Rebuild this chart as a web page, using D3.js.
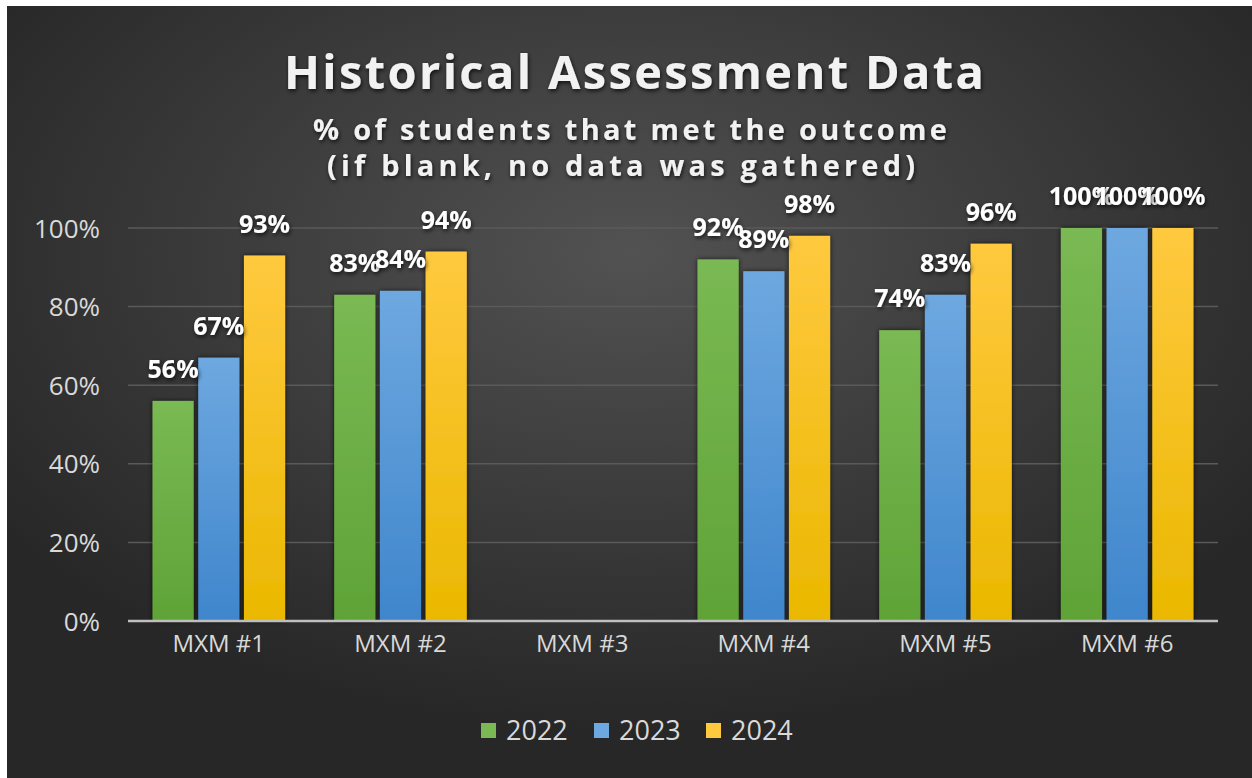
<!DOCTYPE html>
<html>
<head>
<meta charset="utf-8">
<script src="https://cdn.jsdelivr.net/npm/d3@7"></script>
<style>
  html, body { margin: 0; padding: 0; background: #fff; }
  svg { display: block; }
  text { font-family: "Open Sans", "Noto Sans", sans-serif; }
</style>
</head>
<body>
<div id="chart"></div>
<script>
// chart data
const categories = ["MXM #1", "MXM #2", "MXM #3", "MXM #4", "MXM #5", "MXM #6"];
const years = ["2022", "2023", "2024"];
const values2022 = [0.56, 0.83, null, 0.92, 0.74, 1.00];
const values2023 = [0.67, 0.84, null, 0.89, 0.83, 1.00];
const values2024 = [0.93, 0.94, null, 0.98, 0.96, 1.00];
const yTicks = [0, 0.2, 0.4, 0.6, 0.8, 1.0];

const seriesValues = [values2022, values2023, values2024];
const colors = {
  "2022": ["#7ab953", "#5fa337"],
  "2023": ["#6ea8e0", "#3f86cc"],
  "2024": ["#ffc93f", "#eab800"]
};

const width = 1252, height = 778;
const margin = {top: 228, right: 34, bottom: 157, left: 128};

const svg = d3.select("#chart").append("svg")
    .attr("width", width)
    .attr("height", height);

const defs = svg.append("defs");

// background gradient
const bg = defs.append("radialGradient")
    .attr("id", "bg")
    .attr("cx", "50%").attr("cy", "32%")
    .attr("r", "62%");
bg.append("stop").attr("offset", "0%").attr("stop-color", "#525252");
bg.append("stop").attr("offset", "100%").attr("stop-color", "#272727");

years.forEach(y => {
  const g = defs.append("linearGradient")
      .attr("id", "grad" + y)
      .attr("x1", 0).attr("y1", 0).attr("x2", 0).attr("y2", 1);
  g.append("stop").attr("offset", "0%").attr("stop-color", colors[y][0]);
  g.append("stop").attr("offset", "100%").attr("stop-color", colors[y][1]);
});

const shadow = defs.append("filter").attr("id", "shadow")
    .attr("x", "-20%").attr("y", "-20%").attr("width", "140%").attr("height", "140%");
shadow.append("feDropShadow")
    .attr("dx", 0).attr("dy", 0).attr("stdDeviation", 2.5)
    .attr("flood-color", "#000").attr("flood-opacity", 0.7);

const txtShadow = defs.append("filter").attr("id", "tshadow");
txtShadow.append("feDropShadow")
    .attr("dx", 1).attr("dy", 2).attr("stdDeviation", 2)
    .attr("flood-color", "#000").attr("flood-opacity", 0.75);

svg.append("rect")
    .attr("x", 7).attr("y", 6)
    .attr("width", width - 7).attr("height", height - 6)
    .attr("fill", "url(#bg)");

// title + subtitle lines
const titleLines = [
  {text: "Historical Assessment Data", x: 634, y: 89, size: 47, len: 700},
  {text: "% of students that met the outcome", x: 630, y: 140, size: 29, len: 634},
  {text: "(if blank, no data was gathered)", x: 621, y: 176, size: 29, len: 588}
];
svg.append("g")
    .selectAll("text")
    .data(titleLines)
    .join("text")
    .attr("x", d => d.x - d.len / 2).attr("y", d => d.y)
    .attr("fill", "#f2f2f2")
    .attr("font-size", d => d.size)
    .attr("font-weight", 700)
    .attr("textLength", d => d.len)
    .attr("lengthAdjust", "spacing")
    .attr("filter", "url(#tshadow)")
    .text(d => d.text);

// scales
const x0 = d3.scaleBand()
    .domain(categories)
    .range([margin.left, width - margin.right])
    .paddingInner(0.22)
    .paddingOuter(0.11);

const x1 = d3.scaleBand()
    .domain(years)
    .range([0, x0.bandwidth()])
    .padding(0.1);

const y = d3.scaleLinear()
    .domain([0, 1])
    .range([height - margin.bottom, margin.top]);

// gridlines
svg.append("g")
    .selectAll("line")
    .data(yTicks.slice(1))
    .join("line")
    .attr("x1", margin.left).attr("x2", width - margin.right)
    .attr("y1", d => y(d)).attr("y2", d => y(d))
    .attr("stroke", "#5a5a5a")
    .attr("stroke-width", 1.5);

// y axis labels
const yAxis = d3.axisLeft(y)
    .tickValues(yTicks)
    .tickFormat(d3.format(".0%"))
    .tickSize(0)
    .tickPadding(28);

const yG = svg.append("g")
    .attr("transform", `translate(${margin.left},0)`)
    .call(yAxis);
yG.select(".domain").remove();
yG.selectAll("text")
    .attr("fill", "#d9d9d9")
    .attr("font-size", 26)
    .attr("dy", "0.35em");

// bars
const rows = categories.map((c, i) => ({
  cat: c,
  vals: years.map((yr, j) => ({year: yr, value: seriesValues[j][i]}))
}));

const groups = svg.append("g")
    .selectAll("g")
    .data(rows)
    .join("g")
    .attr("transform", d => `translate(${x0(d.cat)},0)`);

groups.selectAll("rect")
    .data(d => d.vals.filter(v => v.value != null))
    .join("rect")
    .attr("x", d => x1(d.year))
    .attr("y", d => y(d.value))
    .attr("width", x1.bandwidth())
    .attr("height", d => y(0) - y(d.value))
    .attr("fill", d => `url(#grad${d.year})`)
    .attr("filter", "url(#shadow)");

groups.selectAll("text")
    .data(d => d.vals.filter(v => v.value != null))
    .join("text")
    .attr("x", d => x1(d.year) + x1.bandwidth() / 2)
    .attr("y", d => y(d.value) - 23)
    .attr("text-anchor", "middle")
    .attr("fill", "#ffffff")
    .attr("font-size", 25)
    .attr("font-weight", 700)
    .attr("filter", "url(#tshadow)")
    .text(d => d3.format(".0%")(d.value));

// x axis
const xAxis = d3.axisBottom(x0).tickSize(0).tickPadding(14);
const xG = svg.append("g")
    .attr("transform", `translate(0,${y(0)})`)
    .call(xAxis);
xG.select(".domain")
    .attr("stroke", "#bfbfbf")
    .attr("stroke-width", 2.5)
    .attr("d", `M${margin.left},0H${width - margin.right}`);
xG.selectAll("text")
    .attr("fill", "#d9d9d9")
    .attr("font-size", 24)
    .attr("dy", "0.71em");

// legend
const legendX = [481, 594, 706];
const legend = svg.append("g")
    .selectAll("g")
    .data(years)
    .join("g")
    .attr("transform", (d, i) => `translate(${legendX[i]},723)`);
legend.append("rect")
    .attr("width", 15).attr("height", 15)
    .attr("fill", d => colors[d][0]);
legend.append("text")
    .attr("x", 25).attr("y", 8)
    .attr("dy", "0.35em")
    .attr("fill", "#d9d9d9")
    .attr("font-size", 27)
    .text(d => d);
</script>
</body>
</html>
